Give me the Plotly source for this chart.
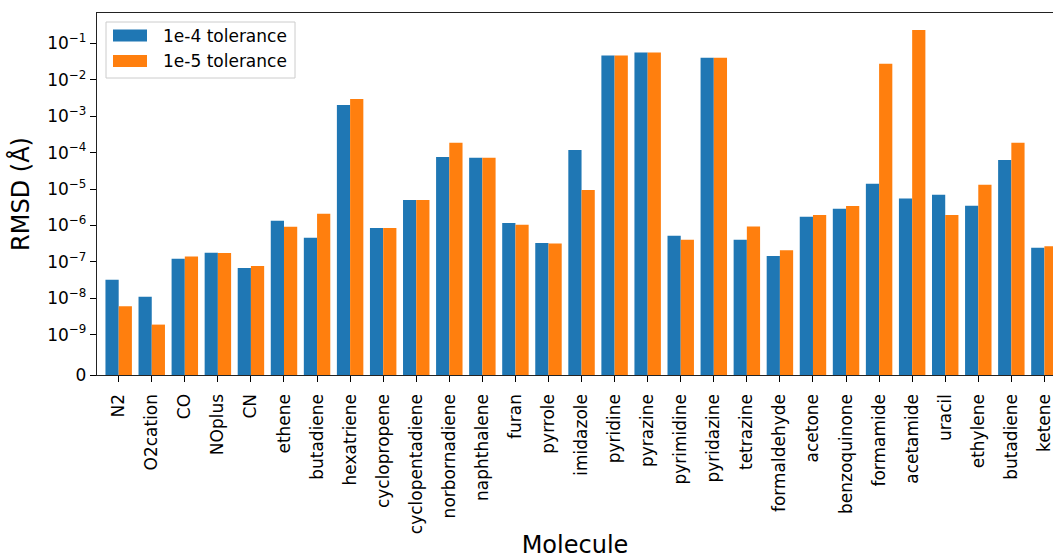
import math
import plotly.graph_objects as go

# RMSD per molecule for the two convergence tolerances (Å)
molecules = ["N2", "O2cation", "CO", "NOplus", "CN", "ethene", "butadiene", "hexatriene",
             "cyclopropene", "cyclopentadiene", "norbornadiene", "naphthalene", "furan",
             "pyrrole", "imidazole", "pyridine", "pyrazine", "pyrimidine", "pyridazine",
             "tetrazine", "formaldehyde", "acetone", "benzoquinone", "formamide",
             "acetamide", "uracil", "ethylene", "butadiene", "ketene"]

rmsd_1e4 = [3.2e-8, 1.1e-8, 1.22e-7, 1.78e-7, 6.8e-8, 1.35e-6, 4.6e-7, 2.03e-3,
            8.5e-7, 5.0e-6, 7.6e-5, 7.2e-5, 1.17e-6, 3.3e-7, 1.18e-4, 4.67e-2,
            5.64e-2, 5.2e-7, 4.04e-2, 4.06e-7, 1.45e-7, 1.74e-6, 2.88e-6, 1.40e-5,
            5.5e-6, 7.0e-6, 3.48e-6, 6.3e-5, 2.45e-7]

rmsd_1e5 = [6.0e-9, 1.88e-9, 1.41e-7, 1.75e-7, 7.7e-8, 9.2e-7, 2.1e-6, 3.0e-3,
            8.5e-7, 5.0e-6, 1.87e-4, 7.2e-5, 1.05e-6, 3.2e-7, 9.4e-6, 4.67e-2,
            5.64e-2, 4.06e-7, 4.04e-2, 9.4e-7, 2.07e-7, 1.94e-6, 3.41e-6, 2.76e-2,
            2.37e-1, 1.94e-6, 1.32e-5, 1.87e-4, 2.66e-7]

series_names = ["1e-4 tolerance", "1e-5 tolerance"]
colors = ["#1f77b4", "#ff7f0e"]

# symmetric-log scale: linear below LINTHRESH, log10 above
LINTHRESH = 1e-9
LINSCALE = 1.0 / (1.0 - 1.0 / 10.0)


def symlog(v):
    if v <= LINTHRESH:
        return v / LINTHRESH * LINSCALE
    return LINSCALE + math.log10(v / LINTHRESH)


tick_exponents = [-9, -8, -7, -6, -5, -4, -3, -2, -1]
tickvals = [0.0] + [symlog(10.0 ** e) for e in tick_exponents]
ticktext = ["0"] + ["10<sup>\u2212%d</sup>" % (-e) for e in tick_exponents]

W, H = 1053, 559
ML, MR, MT, MB = 97, 0, 13, 184
PW, PH = W - ML - MR, H - MT - MB


def px(x):
    return (x - ML) / PW


def py(y):
    return 1 - (y - MT) / PH


FONT = "DejaVu Sans"
xpos = list(range(len(molecules)))

fig = go.Figure()
for name, vals, col in zip(series_names, [rmsd_1e4, rmsd_1e5], colors):
    fig.add_trace(go.Bar(
        x=xpos, y=[symlog(v) for v in vals], name=name,
        marker=dict(color=col, line=dict(width=0)),
        showlegend=False,
    ))

# legend box drawn as shapes
shapes = [dict(type="rect", xref="paper", yref="paper",
               x0=px(106), x1=px(295), y0=py(78), y1=py(22),
               line=dict(color="#cccccc", width=1), fillcolor="rgba(255,255,255,0.8)",
               layer="above")]
annotations = []
for i, (name, col) in enumerate(zip(series_names, colors)):
    yc = 35.5 + i * 25.5
    shapes.append(dict(type="rect", xref="paper", yref="paper",
                       x0=px(113), x1=px(147), y0=py(yc + 6), y1=py(yc - 6),
                       line=dict(width=0), fillcolor=col, layer="above"))
    annotations.append(dict(xref="paper", yref="paper", x=px(161), y=py(yc),
                            xanchor="left", yanchor="middle", showarrow=False,
                            text=name, font=dict(family=FONT, size=17, color="black")))

fig.update_layout(
    width=W, height=H,
    margin=dict(l=ML, r=MR, t=MT, b=MB, autoexpand=False),
    plot_bgcolor="white", paper_bgcolor="white",
    barmode="group", bargap=0.2, bargroupgap=0.0,
    shapes=shapes, annotations=annotations,
    font=dict(family=FONT, color="black"),
)

fig.update_xaxes(
    tickmode="array", tickvals=xpos, ticktext=molecules,
    tickangle=-90, tickfont=dict(family=FONT, size=17, color="black"),
    ticklabeloverflow="allow", ticklabelstandoff=5,
    range=[-0.656, 28.26], showgrid=False, zeroline=False,
    showline=True, linecolor="#222222", linewidth=1.3, mirror=True,
    ticks="outside", ticklen=6, tickwidth=1.2, tickcolor="black",
    title=dict(text="Molecule", font=dict(family=FONT, size=24, color="black"), standoff=5),
    automargin=False,
)

fig.update_yaxes(
    tickmode="array", tickvals=tickvals, ticktext=ticktext,
    tickfont=dict(family=FONT, size=17, color="black"),
    range=[0, 9.95], showgrid=False, zeroline=False,
    showline=True, linecolor="#222222", linewidth=1.3, mirror=False,
    ticks="outside", ticklen=6, tickwidth=1.2, tickcolor="black",
    title=dict(text="RMSD (Å)", font=dict(family=FONT, size=24, color="black"), standoff=10),
    automargin=False,
)

fig.write_html("out.html")
